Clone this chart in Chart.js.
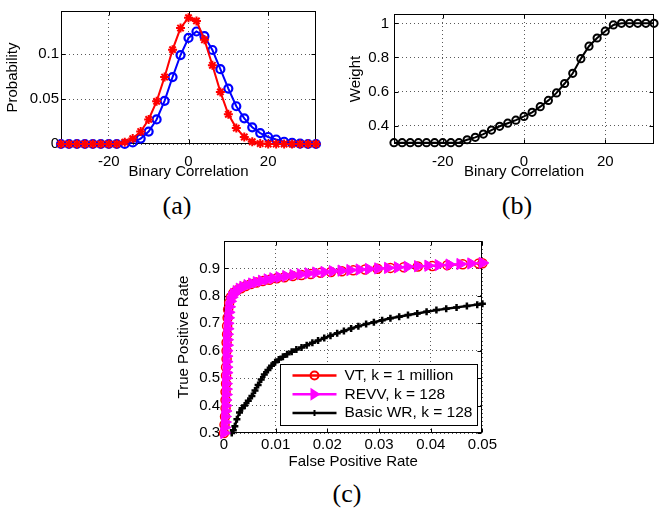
<!DOCTYPE html>
<html lang="en">
<head>
<meta charset="UTF-8">
<title>Binary correlation and ROC figure</title>
<script src="https://cdn.jsdelivr.net/npm/chart.js"></script>
<style>
    body { margin: 0; background: #fff; }
    #fig { position: relative; width: 660px; height: 512px; background: #fff; overflow: hidden; }
    .panel { position: absolute; }
    .panel canvas { display: block; }
    .caption {
        position: absolute;
        font-family: 'Liberation Serif', 'Times New Roman', serif;
        font-size: 26px;
        line-height: 26px;
        color: #000;
        transform: translate(-50%, -50%);
        white-space: nowrap;
    }
</style>
</head>
<body>
<div id="fig">
    <div class="panel" style="left:0;top:0"><canvas id="chartA" width="330" height="190"></canvas></div>
    <div class="panel" style="left:330px;top:0"><canvas id="chartB" width="330" height="190"></canvas></div>
    <div class="panel" style="left:160px;top:228px"><canvas id="chartC" width="340" height="250"></canvas></div>
    <div class="caption" style="left:177px;top:206px">(a)</div>
    <div class="caption" style="left:517px;top:206px">(b)</div>
    <div class="caption" style="left:347px;top:494px">(c)</div>
</div>

<script>
// ---- data: panels (a) and (b) ----
const corrX = [-32, -30, -28, -26, -24, -22, -20, -18, -16, -14, -12, -10, -8, -6, -4, -2, 0,
               2, 4, 6, 8, 10, 12, 14, 16, 18, 20, 22, 24, 26, 28, 30, 32];
const probRed = [0, 0, 0, 0, 0, 0, 0, 0, 0.002, 0.006, 0.0138, 0.0273, 0.0475, 0.0745, 0.105, 0.129, 0.1405,
                 0.137, 0.116, 0.0876, 0.058, 0.033, 0.0177, 0.0078, 0.0025, 0.0005, 0, 0, 0, 0, 0, 0, 0];
const probBlue = [0, 0, 0, 0, 0, 0, 0, 0, 0, 0.0018, 0.006, 0.0138, 0.0273, 0.048, 0.0745, 0.099, 0.118,
                  0.1252, 0.120, 0.1046, 0.0833, 0.0617, 0.042, 0.0286, 0.0186, 0.0122, 0.0078, 0.005, 0.0025, 0.0013, 0.0005, 0, 0];
const weight = [0.30, 0.30, 0.30, 0.30, 0.30, 0.30, 0.30, 0.30, 0.30, 0.317, 0.331, 0.35, 0.374, 0.396, 0.414, 0.432, 0.454,
                0.478, 0.511, 0.548, 0.592, 0.647, 0.707, 0.793, 0.866, 0.914, 0.954, 0.991, 1, 1, 1, 1, 1];

const corrTicks = [-20, 0, 20];
const probTicks = [0, 0.05, 0.1];
const weightTicks = [0.4, 0.6, 0.8, 1];

// ---- data: panel (c) ROC curves ----
const vtFpr = [0, 0.0001, 0.0002, 0.0003, 0.0003, 0.0003, 0.0004, 0.0004, 0.0004, 0.0005, 0.0005, 0.0005, 0.0006, 0.0006,
               0.0007, 0.0008, 0.0010, 0.0013, 0.0018, 0.0025, 0.0033, 0.0042, 0.0052, 0.0063, 0.0075, 0.0088, 0.0102,
               0.0117, 0.0133, 0.0150, 0.0168, 0.0187, 0.0207, 0.0228, 0.0250, 0.0273, 0.0297, 0.0322, 0.0348, 0.0375,
               0.0403, 0.0432, 0.0462, 0.0493, 0.05];
const vtTpr = [0.30, 0.33, 0.36, 0.39, 0.42, 0.45, 0.48, 0.51, 0.54, 0.57, 0.60, 0.63, 0.66, 0.69,
               0.72, 0.75, 0.775, 0.795, 0.810, 0.820, 0.828, 0.836, 0.843, 0.849, 0.854, 0.859, 0.864,
               0.868, 0.872, 0.876, 0.880, 0.884, 0.887, 0.890, 0.893, 0.896, 0.899, 0.902, 0.904, 0.907,
               0.909, 0.912, 0.915, 0.918, 0.919];
const revvFpr = [0, 0.0001, 0.0002, 0.0002, 0.0003, 0.0003, 0.0003, 0.0004, 0.0004, 0.0004, 0.0004, 0.0005, 0.0005, 0.0005,
                 0.0005, 0.0005, 0.0006, 0.0006, 0.0006, 0.0007, 0.0007, 0.0008, 0.0009, 0.0010, 0.0012, 0.0015, 0.0019,
                 0.0024, 0.0030, 0.0037, 0.0045, 0.0054, 0.0063, 0.0073, 0.0084, 0.0095, 0.0107, 0.0120, 0.0134, 0.0148,
                 0.0163, 0.0178, 0.0194, 0.0210, 0.0227, 0.0244, 0.0262, 0.0280, 0.0298, 0.0317, 0.0336, 0.0355, 0.0375,
                 0.0395, 0.0415, 0.0436, 0.0457, 0.0478, 0.0500];
const revvTpr = [0.30, 0.32, 0.34, 0.36, 0.38, 0.40, 0.42, 0.44, 0.46, 0.48, 0.50, 0.52, 0.54, 0.56,
                 0.58, 0.60, 0.62, 0.64, 0.66, 0.68, 0.70, 0.72, 0.74, 0.76, 0.78, 0.795, 0.807,
                 0.817, 0.826, 0.833, 0.839, 0.845, 0.850, 0.855, 0.860, 0.864, 0.868, 0.872, 0.876, 0.879,
                 0.882, 0.885, 0.887, 0.890, 0.892, 0.894, 0.896, 0.898, 0.900, 0.902, 0.904, 0.906, 0.908,
                 0.910, 0.912, 0.914, 0.916, 0.918, 0.920];
const wrFpr = [0.0015, 0.0018, 0.0021, 0.0025, 0.0030, 0.0035, 0.0040, 0.0047, 0.0054, 0.0060, 0.0066, 0.0072, 0.0078,
               0.0085, 0.0092, 0.0099, 0.0106, 0.0114, 0.0122, 0.0131, 0.0140, 0.0150, 0.0160, 0.0171, 0.0182, 0.0194,
               0.0206, 0.0219, 0.0232, 0.0246, 0.0260, 0.0275, 0.0290, 0.0306, 0.0322, 0.0339, 0.0356, 0.0374, 0.0392,
               0.0411, 0.0430, 0.0450, 0.0470, 0.0490, 0.0500];
const wrTpr = [0.300, 0.310, 0.325, 0.350, 0.375, 0.390, 0.400, 0.418, 0.435, 0.455, 0.475, 0.495, 0.513,
               0.530, 0.545, 0.558, 0.568, 0.578, 0.587, 0.596, 0.604, 0.612, 0.620, 0.629, 0.637, 0.646,
               0.655, 0.664, 0.672, 0.681, 0.689, 0.697, 0.704, 0.711, 0.718, 0.724, 0.730, 0.736, 0.742,
               0.748, 0.753, 0.758, 0.763, 0.768, 0.771];

const fprTicks = [0, 0.01, 0.02, 0.03, 0.04, 0.05];
const tprTicks = [0.3, 0.4, 0.5, 0.6, 0.7, 0.8, 0.9];
const rocNames = ['VT, k = 1 million', 'REVV, k = 128', 'Basic WR, k = 128'];
const rocColors = ['#ff0000', '#ff00ff', '#000000'];

// ---- common look ----
Chart.defaults.font.family = "'Liberation Sans', Arial, Helvetica, sans-serif";
Chart.defaults.font.size = 15;
Chart.defaults.color = '#000';
Chart.defaults.animation = false;

const gridStyle = { color: 'rgba(0,0,0,0.65)', lineWidth: 1, drawTicks: false };
const borderStyle = { display: false, dash: [1, 3] };

function points(xs, ys) {
    return xs.map((x, i) => ({ x: x, y: ys[i] }));
}

// axes box with inward tick marks, like the MATLAB figure
const matlabBox = {
    id: 'matlabBox',
    beforeDatasetsDraw(chart) {
        const { ctx, chartArea: a, scales } = chart;
        const L = Math.round(a.left) + 0.5, R = Math.round(a.right) - 0.5;
        const T = Math.round(a.top) + 0.5, B = Math.round(a.bottom) - 0.5;
        ctx.save();
        ctx.strokeStyle = '#000';
        ctx.lineWidth = 1;
        ctx.setLineDash([]);
        ctx.strokeRect(L, T, R - L, B - T);
        ctx.beginPath();
        scales.x.ticks.forEach(t => {
            const px = Math.round(scales.x.getPixelForValue(t.value)) + 0.5;
            ctx.moveTo(px, B); ctx.lineTo(px, B - 4);
            ctx.moveTo(px, T); ctx.lineTo(px, T + 4);
        });
        scales.y.ticks.forEach(t => {
            const py = Math.round(scales.y.getPixelForValue(t.value)) + 0.5;
            ctx.moveTo(L, py); ctx.lineTo(L + 4, py);
            ctx.moveTo(R, py); ctx.lineTo(R - 4, py);
        });
        ctx.stroke();
        ctx.restore();
    }
};

function axes(o) {
    return {
        x: {
            type: 'linear', min: o.xMin, max: o.xMax,
            afterBuildTicks: s => { s.ticks = o.xTicks.map(v => ({ value: v })); },
            afterFit: s => { s.height = o.xH; },
            grid: gridStyle, border: borderStyle,
            ticks: { padding: o.xPad, maxRotation: 0, autoSkip: false, callback: v => String(v) },
            title: { display: true, text: o.xTitle, padding: { top: 0, bottom: o.xTitlePad } }
        },
        y: {
            type: 'linear', min: o.yMin, max: o.yMax,
            afterBuildTicks: s => { s.ticks = o.yTicks.map(v => ({ value: v })); },
            afterFit: s => { s.width = o.yW; },
            grid: gridStyle, border: borderStyle,
            ticks: { padding: o.yPad, autoSkip: false, callback: v => String(v) },
            title: { display: true, text: o.yTitle, padding: { top: o.yTitlePad, bottom: 0 } }
        }
    };
}

const baseOptions = {
    responsive: false,
    plugins: { legend: { display: false }, tooltip: { enabled: false } }
};

// (a) probability vs binary correlation
new Chart(document.getElementById('chartA'), {
    type: 'scatter',
    data: {
        datasets: [
            {
                data: points(corrX, probRed), showLine: true, order: 0, clip: false,
                borderColor: '#ff0000', borderWidth: 2,
                pointStyle: 'star', pointRadius: 4.5, pointBorderWidth: 2,
                pointBorderColor: '#ff0000', pointBackgroundColor: '#ff0000'
            },
            {
                data: points(corrX, probBlue), showLine: true, order: 1, clip: false,
                borderColor: '#0000ff', borderWidth: 2,
                pointStyle: 'circle', pointRadius: 4, pointBorderWidth: 2.2,
                pointBorderColor: '#0000ff', pointBackgroundColor: 'rgba(0,0,0,0)'
            }
        ]
    },
    options: Object.assign({}, baseOptions, {
        layout: { padding: { left: 0, top: 5, right: 14, bottom: 0 } },
        scales: axes({
            xMin: -32, xMax: 32, xTicks: corrTicks, xH: 46, xPad: 9, xTitle: 'Binary Correlation', xTitlePad: 9,
            yMin: 0, yMax: 0.148, yTicks: probTicks, yW: 61, yPad: 2, yTitle: 'Probability', yTitlePad: 3.5
        })
    }),
    plugins: [matlabBox]
});

// (b) weight vs binary correlation
new Chart(document.getElementById('chartB'), {
    type: 'scatter',
    data: {
        datasets: [{
            data: points(corrX, weight), showLine: true, clip: false,
            borderColor: '#000', borderWidth: 2,
            pointStyle: 'circle', pointRadius: 3.6, pointBorderWidth: 2,
            pointBorderColor: '#000', pointBackgroundColor: 'rgba(0,0,0,0)'
        }]
    },
    options: Object.assign({}, baseOptions, {
        layout: { padding: { left: 0, top: 5, right: 2, bottom: 0 } },
        scales: axes({
            xMin: -32, xMax: 32, xTicks: corrTicks, xH: 46, xPad: 9, xTitle: 'Binary Correlation', xTitlePad: 9,
            yMin: 0.292, yMax: 1.055, yTicks: weightTicks, yW: 64, yPad: 5, yTitle: 'Weight', yTitlePad: 16.5
        })
    }),
    plugins: [matlabBox]
});

// legend drawn inside the plot, lower right
function drawMarker(ctx, kind, x, y, color) {
    ctx.save();
    ctx.strokeStyle = color;
    ctx.fillStyle = color;
    ctx.beginPath();
    if (kind === 'circle') {
        ctx.lineWidth = 2;
        ctx.arc(x, y, 4, 0, Math.PI * 2);
        ctx.stroke();
    } else if (kind === 'triangle') {
        ctx.moveTo(x + 6, y);
        ctx.lineTo(x - 4, y - 6.5);
        ctx.lineTo(x - 4, y + 6.5);
        ctx.closePath();
        ctx.fill();
    } else {
        ctx.lineWidth = 2;
        ctx.moveTo(x - 3, y); ctx.lineTo(x + 3, y);
        ctx.moveTo(x, y - 3); ctx.lineTo(x, y + 3);
        ctx.stroke();
    }
    ctx.restore();
}

const legendInside = {
    id: 'legendInside',
    afterDatasetsDraw(chart) {
        const { ctx, chartArea: a } = chart;
        const w = 197, h = 61;
        const x0 = Math.round(a.right - 5 - w) + 0.5;
        const y0 = Math.round(a.bottom - 8 - h) + 0.5;
        const kinds = ['circle', 'triangle', 'plus'];
        ctx.save();
        ctx.fillStyle = '#fff';
        ctx.fillRect(x0, y0, w, h);
        ctx.strokeStyle = '#000';
        ctx.lineWidth = 1;
        ctx.strokeRect(x0, y0, w, h);
        ctx.font = "15.5px 'Liberation Sans', Arial, sans-serif";
        ctx.textBaseline = 'middle';
        rocNames.forEach((name, i) => {
            const y = y0 + 11 + i * 18.8;
            ctx.strokeStyle = rocColors[i];
            ctx.lineWidth = 2.5;
            ctx.beginPath();
            ctx.moveTo(x0 + 12, y);
            ctx.lineTo(x0 + 56, y);
            ctx.stroke();
            drawMarker(ctx, kinds[i], x0 + 34, y, rocColors[i]);
            ctx.fillStyle = '#000';
            ctx.fillText(name, x0 + 64, y);
        });
        ctx.restore();
    }
};

// (c) ROC curves
new Chart(document.getElementById('chartC'), {
    type: 'scatter',
    data: {
        datasets: [
            {
                data: points(vtFpr, vtTpr), showLine: true, order: 1, clip: false,
                borderColor: rocColors[0], borderWidth: 2,
                pointStyle: 'circle', pointRadius: 4.5, pointBorderWidth: 1.5,
                pointBorderColor: rocColors[0], pointBackgroundColor: 'rgba(0,0,0,0)'
            },
            {
                data: points(revvFpr, revvTpr), showLine: true, order: 0, clip: false,
                borderColor: rocColors[1], borderWidth: 2,
                pointStyle: 'triangle', pointRotation: 90, pointRadius: 6.5, pointBorderWidth: 1,
                pointBorderColor: rocColors[1], pointBackgroundColor: rocColors[1]
            },
            {
                data: points(wrFpr, wrTpr), showLine: true, order: 2, clip: false,
                borderColor: rocColors[2], borderWidth: 2.5,
                pointStyle: 'cross', pointRadius: 3.5, pointBorderWidth: 2.5,
                pointBorderColor: rocColors[2], pointBackgroundColor: rocColors[2]
            }
        ]
    },
    options: Object.assign({}, baseOptions, {
        layout: { padding: { left: 0, top: 10, right: 13, bottom: 0 } },
        scales: axes({
            xMin: 0, xMax: 0.05, xTicks: fprTicks, xH: 45, xPad: 3, xTitle: 'False Positive Rate', xTitlePad: 7,
            yMin: 0.3, yMax: 1.0, yTicks: tprTicks, yW: 64, yPad: 4, yTitle: 'True Positive Rate', yTitlePad: 15
        })
    }),
    plugins: [matlabBox, legendInside]
});
</script>
</body>
</html>
